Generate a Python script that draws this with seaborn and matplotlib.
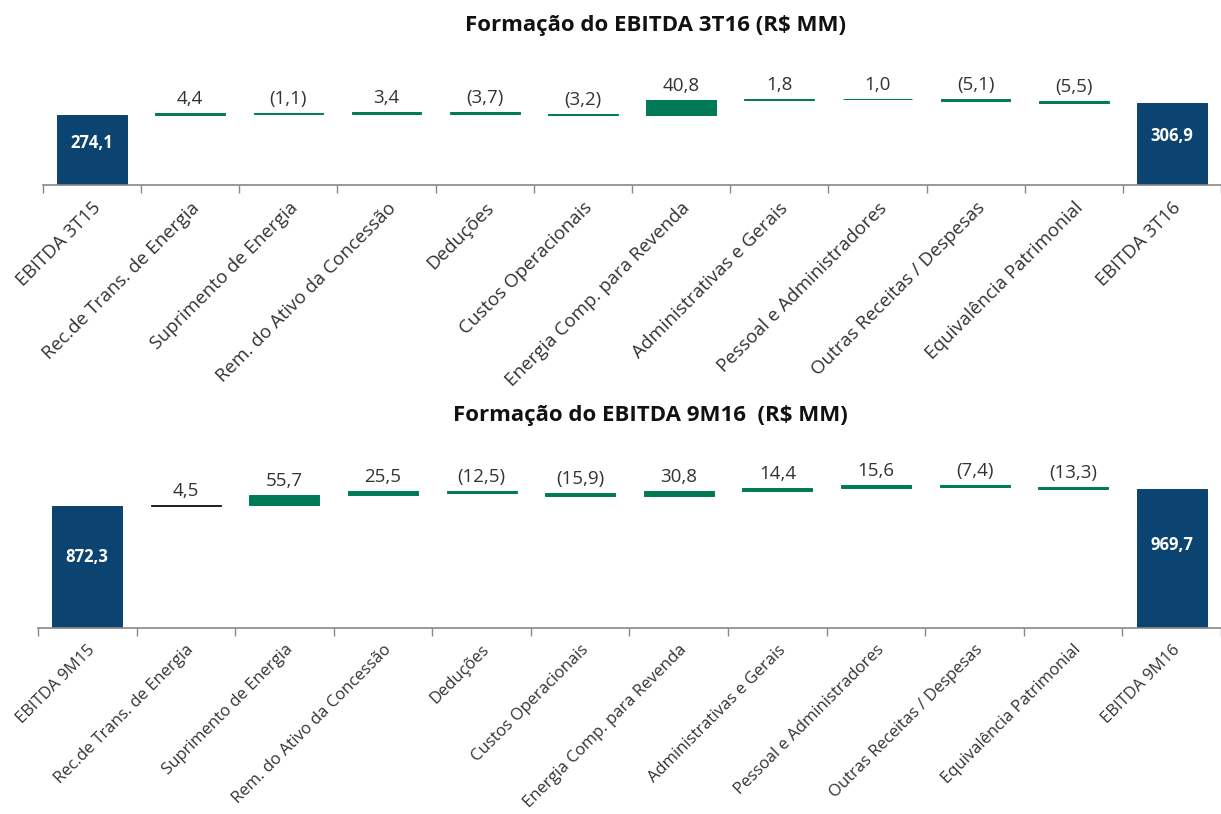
import numpy as np
import pandas as pd
import matplotlib
matplotlib.use('Agg')
import matplotlib.pyplot as plt
import seaborn as sns

# Categories and values
categorias = ['Rec.de Trans. de Energia', 'Suprimento de Energia', 'Rem. do Ativo da Concessão',
              'Deduções', 'Custos Operacionais', 'Energia Comp. para Revenda',
              'Administrativas e Gerais', 'Pessoal e Administradores',
              'Outras Receitas / Despesas', 'Equivalência Patrimonial']

labels_3t = ['EBITDA 3T15'] + categorias + ['EBITDA 3T16']
valores_3t = [274.1, 4.4, -1.1, 3.4, -3.7, -3.2, 40.8, 1.8, 1.0, -5.1, -5.5, 306.9]

labels_9m = ['EBITDA 9M15'] + categorias + ['EBITDA 9M16']
valores_9m = [872.3, 4.5, 55.7, 25.5, -12.5, -15.9, 30.8, 14.4, 15.6, -7.4, -13.3, 969.7]

AZUL = '#0b4371'
VERDE = '#007a56'
CINZA = '#888888'

sns.set_theme(style='white')
plt.rcParams['font.family'] = ['Open Sans', 'DejaVu Sans']


def fmt(v):
    s = f'{abs(v):.1f}'.replace('.', ',')
    return f'({s})' if v < 0 else s


def waterfall(ax, labels, valores, ylim, label_size, delta_colors, total_pos):
    df = pd.DataFrame({'label': labels, 'valor': valores})
    n = len(df)
    # cumulative bottoms for the floating bars
    bottoms = [ylim[0]]
    heights = [df.valor[0] - ylim[0]]
    acc = df.valor[0]
    for v in df.valor[1:-1]:
        bottoms.append(acc if v >= 0 else acc + v)
        heights.append(abs(v))
        acc += v
    bottoms.append(ylim[0])
    heights.append(df.valor.iloc[-1] - ylim[0])
    colors = [AZUL] + delta_colors + [AZUL]
    x = np.arange(n)
    ax.bar(x, heights, bottom=bottoms, width=0.71, color=colors,
           edgecolor=colors, linewidth=0.7)

    off = matplotlib.transforms.ScaledTranslation(0, 5 / 100, ax.figure.dpi_scale_trans)
    for i in range(n):
        if i in (0, n - 1):
            ax.text(i, bottoms[i] + heights[i] * total_pos[0 if i == 0 else 1], fmt(df.valor[i]),
                    ha='center', va='center', color='white', fontsize=12, fontweight='bold')
        else:
            ax.text(i, bottoms[i] + heights[i], fmt(df.valor[i]), ha='center', va='bottom',
                    color='#333333', fontsize=13.5, transform=ax.transData + off)

    ax.set_ylim(*ylim)
    ax.set_xlim(-0.5, n - 0.5 - 0.11)
    ax.set_yticks([])
    ax.set_xticks(x)
    ax.set_xticklabels(df.label, rotation=45, ha='right', rotation_mode='anchor',
                       fontsize=label_size, color='#333333')
    ax.set_xticks(np.arange(-0.5, n, 1), minor=True)
    ax.tick_params(axis='x', which='major', length=0, pad=10)
    ax.tick_params(axis='x', which='minor', length=6, color=CINZA, width=1, bottom=True)
    for s in ['top', 'left', 'right']:
        ax.spines[s].set_visible(False)
    ax.spines['bottom'].set_color(CINZA)
    ax.spines['bottom'].set_linewidth(1.2)
    ax.set_facecolor('none')


fig = plt.figure(figsize=(12.21, 8.14), dpi=100)
W, H = 1221, 814

ax1 = fig.add_axes([43 / W, 1 - 185 / H, (W - 43) / W, 95 / H])
ax2 = fig.add_axes([38 / W, 1 - 628 / H, (W - 38) / W, 158 / H])

waterfall(ax1, labels_3t, valores_3t, (83, 342), 13.5, [VERDE] * 10, (0.6, 0.6))
waterfall(ax2, labels_9m, valores_9m, (173, 1078), 12, ['#222222'] + [VERDE] * 9, (0.58, 0.6))

fig.text(655 / W, 1 - 25 / H, 'Formação do EBITDA 3T16 (R$ MM)', ha='center', va='center',
         fontsize=16, fontweight='bold', color='#111111')
fig.text(650 / W, 1 - 415 / H, 'Formação do EBITDA 9M16  (R$ MM)', ha='center', va='center',
         fontsize=16, fontweight='bold', color='#111111')

fig.savefig('out.png', dpi=100, facecolor='white')
